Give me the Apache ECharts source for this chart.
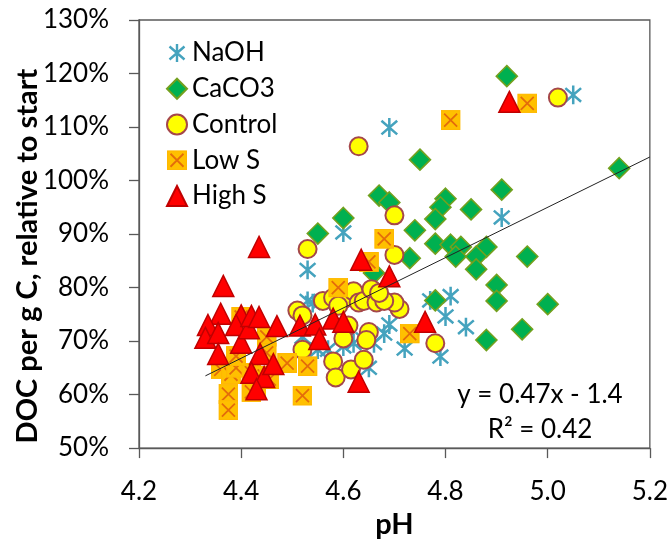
<!DOCTYPE html>
<html>
<head>
<meta charset="utf-8">
<script src="https://cdn.jsdelivr.net/npm/echarts@6/dist/echarts.min.js"></script>
<style>
html,body{margin:0;padding:0;background:#fff;}
#c{width:671px;height:544px;}
</style>
</head>
<body>
<div id="c"></div>
<script>
// ---- data (pH, DOC relative to start) ----
const naohPH  = [5.05, 4.69, 4.91, 4.60, 4.81, 4.77, 4.80, 4.84, 4.79, 4.72, 4.69, 4.68, 4.66, 4.64, 4.62, 4.60, 4.57, 4.53, 4.53, 4.52, 4.55, 4.54, 4.65];
const naohDOC = [1.160, 1.099, 0.931, 0.903, 0.784, 0.776, 0.746, 0.726, 0.671, 0.686, 0.731, 0.714, 0.696, 0.703, 0.696, 0.690, 0.684, 0.833, 0.775, 0.708, 0.684, 0.771, 0.650];

const caco3PH  = [4.92, 4.75, 5.14, 4.91, 4.80, 4.79, 4.85, 4.78, 4.67, 4.69, 4.60, 4.55, 4.74, 4.78, 4.81, 4.83, 4.88, 4.82, 4.86, 4.73, 4.96, 4.86, 4.90, 4.90, 4.78, 5.00, 4.95, 4.88, 4.66];
const caco3DOC = [1.195, 1.039, 1.023, 0.983, 0.966, 0.950, 0.946, 0.928, 0.972, 0.959, 0.930, 0.901, 0.907, 0.882, 0.880, 0.876, 0.876, 0.858, 0.858, 0.855, 0.858, 0.834, 0.805, 0.775, 0.776, 0.769, 0.722, 0.702, 0.827];

const controlPH  = [5.02, 4.63, 4.70, 4.53, 4.70, 4.78, 4.71, 4.70, 4.51, 4.52, 4.56, 4.58, 4.60, 4.62, 4.63, 4.64, 4.655, 4.665, 4.68, 4.59, 4.61, 4.60, 4.65, 4.645, 4.58, 4.585, 4.615, 4.64, 4.52, 4.67];
const controlDOC = [1.155, 1.064, 0.935, 0.872, 0.861, 0.696, 0.760, 0.772, 0.757, 0.748, 0.775, 0.781, 0.778, 0.793, 0.772, 0.775, 0.797, 0.772, 0.775, 0.766, 0.729, 0.705, 0.717, 0.702, 0.662, 0.632, 0.647, 0.665, 0.684, 0.790];

const lowSPH  = [4.96, 4.81, 4.68, 4.73, 4.65, 4.59, 4.45, 4.49, 4.53, 4.52, 4.375, 4.375, 4.36, 4.38, 4.39, 4.42, 4.445, 4.455, 4.43, 4.39, 4.45, 4.40, 4.42];
const lowSDOC = [1.144, 1.113, 0.891, 0.714, 0.848, 0.800, 0.708, 0.659, 0.653, 0.598, 0.601, 0.571, 0.647, 0.638, 0.650, 0.641, 0.635, 0.629, 0.610, 0.672, 0.678, 0.745, 0.605];

const highSPH  = [4.925, 4.435, 4.365, 4.635, 4.36, 4.335, 4.33, 4.355, 4.355, 4.40, 4.40, 4.39, 4.415, 4.42, 4.435, 4.47, 4.437, 4.42, 4.445, 4.43, 4.463, 4.515, 4.545, 4.553, 4.58, 4.60, 4.63, 4.69, 4.76];
const highSDOC = [1.147, 0.876, 0.803, 0.852, 0.751, 0.730, 0.706, 0.715, 0.676, 0.697, 0.748, 0.730, 0.724, 0.747, 0.745, 0.728, 0.676, 0.641, 0.633, 0.610, 0.657, 0.729, 0.731, 0.704, 0.742, 0.736, 0.624, 0.821, 0.736];

const trendPH  = [4.33, 5.20];
const trendDOC = [0.635, 1.044];

const xTicks = [4.2, 4.4, 4.6, 4.8, 5.0, 5.2];
const yTicks = [0.5, 0.6, 0.7, 0.8, 0.9, 1.0, 1.1, 1.2, 1.3];

const seriesNames = ['NaOH', 'CaCO3', 'Control', 'Low S', 'High S'];

function zip(a, b) { return a.map((v, i) => [v, b[i]]); }

const FONT = 'Lato, "Open Sans", sans-serif';

const asteriskSvg = 'image://data:image/svg+xml;charset=utf-8,' + encodeURIComponent(
  '<svg xmlns="http://www.w3.org/2000/svg" width="60" height="60" viewBox="0 0 20 20">' +
  '<path d="M10 1V19M2.5 3.5L17.5 16.5M17.5 3.5L2.5 16.5" stroke="#45A3BE" stroke-width="2.4" fill="none"/></svg>');
const lowSSvg = 'image://data:image/svg+xml;charset=utf-8,' + encodeURIComponent(
  '<svg xmlns="http://www.w3.org/2000/svg" width="60" height="60" viewBox="0 0 20 20">' +
  '<rect x="0.6" y="0.6" width="18.8" height="18.8" fill="#FFC000" stroke="#FFB800" stroke-width="1.2"/>' +
  '<path d="M3.5 3.5L16.5 16.5M16.5 3.5L3.5 16.5" stroke="#E46C0A" stroke-width="1.8" fill="none"/></svg>');

const chart = echarts.init(document.getElementById('c'), null, {renderer: 'canvas'});

const option = {
  animation: false,
  backgroundColor: '#fff',
  grid: {left: 139, top: 20, width: 511, height: 437, show: true, borderColor: '#595959', borderWidth: 1.3, backgroundColor: 'transparent'},
  xAxis: {
    type: 'value', min: xTicks[0], max: xTicks[xTicks.length - 1], interval: 0.2,
    axisLine: {show: true, onZero: false, lineStyle: {color: '#595959', width: 1.3}},
    axisTick: {show: true, length: 10, lineStyle: {color: '#595959', width: 1.3}},
    splitLine: {show: false},
    axisLabel: {formatter: v => v.toFixed(1), fontFamily: FONT, fontSize: 26, color: '#000', margin: 31},
    name: 'pH', nameLocation: 'middle', nameGap: 51,
    nameTextStyle: {fontFamily: FONT, fontSize: 29, fontWeight: 'bold', color: '#000'}
  },
  yAxis: {
    type: 'value', min: yTicks[0], max: yTicks[yTicks.length - 1], interval: 0.1,
    axisLine: {show: true, onZero: false, lineStyle: {color: '#595959', width: 1.3}},
    axisTick: {show: true, length: 10, lineStyle: {color: '#595959', width: 1.3}},
    splitLine: {show: false},
    axisLabel: {formatter: v => Math.round(v * 100) + '%', fontFamily: FONT, fontSize: 26, color: '#000', margin: 30}
  },
  legend: {
    orient: 'vertical', left: 166, top: 40, padding: 0, itemWidth: 20, itemHeight: 20, itemGap: 9.75,
    data: seriesNames,
    textStyle: {fontFamily: FONT, fontSize: 26, color: '#000', lineHeight: 26}
  },
  graphic: [
    {type: 'text', x: 28, y: 256, rotation: Math.PI / 2,
     style: {text: 'DOC per g C, relative to start', font: 'bold 29px ' + FONT, fill: '#000', textAlign: 'center', textVerticalAlign: 'middle'}},
    {type: 'text', x: 540, y: 395,
     style: {text: 'y = 0.47x - 1.4', font: '26px ' + FONT, fill: '#000', textAlign: 'center', textVerticalAlign: 'middle'}},
    {type: 'text', x: 540, y: 430,
     style: {text: 'R\u00B2 = 0.42', font: '26px ' + FONT, fill: '#000', textAlign: 'center', textVerticalAlign: 'middle'}}
  ],
  series: [
    {name: 'NaOH', type: 'scatter', data: zip(naohPH, naohDOC), symbol: asteriskSvg, symbolSize: 21, z: 2,
     itemStyle: {opacity: 1}},
    {name: 'CaCO3', type: 'scatter', data: zip(caco3PH, caco3DOC), symbol: 'diamond', symbolSize: 21, z: 3,
     itemStyle: {color: '#00B050', borderColor: '#73A01E', borderWidth: 1.6, opacity: 1}},
    {name: 'Control', type: 'scatter', data: zip(controlPH, controlDOC), symbol: 'circle', symbolSize: 18, z: 4,
     itemStyle: {color: '#FFFF00', borderColor: '#A5474A', borderWidth: 2, opacity: 1}},
    {name: 'Low S', type: 'scatter', data: zip(lowSPH, lowSDOC), symbol: lowSSvg, symbolSize: 20, z: 5,
     itemStyle: {opacity: 1}},
    {name: 'High S', type: 'scatter', data: zip(highSPH, highSDOC), symbol: 'triangle', symbolSize: 21, z: 6,
     itemStyle: {color: '#FF0000', borderColor: '#C00000', borderWidth: 1.5, opacity: 1}},
    {name: 'trend', type: 'line', data: zip(trendPH, trendDOC), symbol: 'none', z: 7,
     lineStyle: {color: '#222', width: 1}, silent: true}
  ]
};
chart.setOption(option);
</script>
</body>
</html>
